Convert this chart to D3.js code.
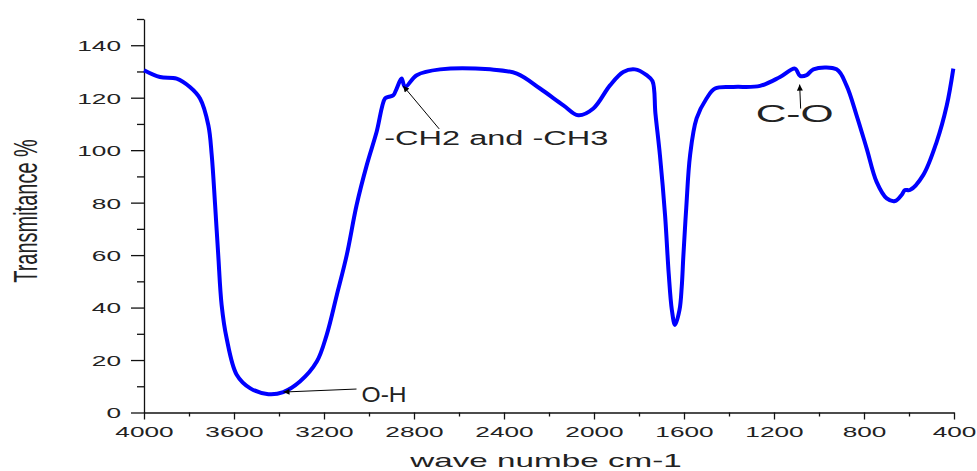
<!DOCTYPE html>
<html>
<head>
<meta charset="utf-8">
<script src="https://cdn.jsdelivr.net/npm/d3@7"></script>
<style>
  html, body { margin: 0; padding: 0; background: #fff; }
  svg { display: block; font-family: "Liberation Sans", Arial, sans-serif; }
</style>
</head>
<body>
<main></main>
<script>
// spectrum (wavenumber cm-1, transmittance %)
let waveNumbers = [4000, 3929, 3855, 3796, 3751, 3714, 3699, 3684, 3670, 3655, 3633, 3588, 3529, 3447, 3381,
    3307, 3232, 3188, 3143, 3099, 3055, 3010, 2966, 2929, 2914, 2892, 2877, 2855, 2840, 2788, 2684, 2462,
    2343, 2240, 2136, 2070, 2003, 1929, 1870, 1818, 1766, 1740, 1727, 1707, 1684, 1668, 1654,
    1640, 1620, 1610, 1603, 1590, 1573, 1544, 1500, 1462, 1381, 1262, 1173, 1107, 1084, 1055, 1025,
    922, 878, 833, 788, 744, 699, 662, 633, 618, 596, 537, 477, 432, 403]
let transmittance = [130.5, 127.9, 127.3, 124.1, 119.7, 109.5, 98.1, 79.1, 60, 41, 28.4, 14.4, 9.3, 7.0, 7.8,
    11.8, 19.4, 29.6, 44.8, 60, 79.1, 94.3, 107, 119.7, 120.3, 120.9, 123.5, 127.3, 124.1, 128.6, 130.8, 130.8,
    129.2, 123.5, 117.1, 113.3, 115.9, 124.7, 129.8, 130.8, 128.6, 126.3, 114, 98.1, 75, 53, 39.1,
    33.4, 39.1, 48, 59.4, 78, 98.1, 112.1, 119.7, 123.5, 124.1, 124.5, 127.9, 131.1, 128.3, 128.6, 130.8,
    130.8, 124.7, 113.3, 100.6, 87.9, 81.6, 80.6, 82.9, 84.8, 84.8, 90.5, 103.2, 117.1, 131.1]

let xTicks = [4000, 3600, 3200, 2800, 2400, 2000, 1600, 1200, 800, 400]
let xMinorTicks = [3800, 3400, 3000, 2600, 2200, 1800, 1400, 1000, 600]
let yTicks = [0, 20, 40, 60, 80, 100, 120, 140]
let yMinorTicks = [10, 30, 50, 70, 90, 110, 130, 150]

// annotations: label and arrow tip (data)
let annLabels = ['O-H', '-CH2 and -CH3', 'C-O']
let annTips = [[3380, 7.8], [2848, 124.5], [1086, 125]]

let width = 977
let height = 471

let svg = d3.select('main')
    .append('svg')
    .attr('width', width)
    .attr('height', height)

let x = d3.scaleLinear()
    .domain([4000, 400])
    .range([144, 954])

let y = d3.scaleLinear()
    .domain([0, 150])
    .range([412.5, 19])

// y axis
let yAxis = svg.append('g')
    .attr('transform', `translate(${x(4000)},0)`)
    .call(d3.axisLeft(y).tickValues(yTicks).tickSize(13).tickSizeOuter(0))

yAxis.select('.domain').attr('stroke', '#111').attr('stroke-width', 1.3)
yAxis.selectAll('line').attr('stroke', '#111').attr('stroke-width', 1.3)
yAxis.selectAll('text')
    .attr('x', 0)
    .attr('dy', '0.36em')
    .attr('transform', 'translate(-23,0) scale(1.75,1)')
    .style('font-size', '15px')
    .style('fill', '#222')

svg.append('g')
    .attr('transform', `translate(${x(4000)},0)`)
    .call(d3.axisLeft(y).tickValues(yMinorTicks).tickSize(7).tickFormat(''))
    .call(g => g.select('.domain').remove())
    .selectAll('line').attr('stroke', '#111').attr('stroke-width', 1.3)

// x axis
let xAxis = svg.append('g')
    .attr('transform', `translate(0,${y(0)})`)
    .call(d3.axisBottom(x).tickValues(xTicks).tickFormat(d3.format('d')).tickSize(7).tickSizeOuter(0))

xAxis.select('.domain').attr('stroke', '#111').attr('stroke-width', 1.3)
xAxis.selectAll('line').attr('stroke', '#111').attr('stroke-width', 1.3)
xAxis.selectAll('text')
    .attr('y', 14)
    .attr('transform', 'scale(1.75,1)')
    .style('font-size', '15px')
    .style('fill', '#222')

svg.append('g')
    .attr('transform', `translate(0,${y(0)})`)
    .call(d3.axisBottom(x).tickValues(xMinorTicks).tickSize(4).tickFormat(''))
    .call(g => g.select('.domain').remove())
    .selectAll('line').attr('stroke', '#111').attr('stroke-width', 1.3)

// axis titles
svg.append('text')
    .attr('transform', 'translate(37,211) scale(1.7,1) rotate(-90)')
    .attr('text-anchor', 'middle')
    .style('font-size', '20px')
    .style('fill', '#222')
    .text('Transmitance %')

svg.append('text')
    .attr('transform', 'translate(546,467) scale(1.75,1)')
    .attr('text-anchor', 'middle')
    .style('font-size', '19px')
    .style('fill', '#222')
    .text('wave numbe cm-1')

// spectrum line
let spectrum = waveNumbers.map((w, i) => [w, transmittance[i]])

let line = d3.line()
    .x(d => x(d[0]))
    .y(d => y(d[1]))
    .curve(d3.curveCatmullRom.alpha(0.5))

svg.append('path')
    .datum(spectrum)
    .attr('d', line)
    .style('fill', 'none')
    .style('stroke', '#0000ff')
    .style('stroke-width', 4)
    .style('stroke-linejoin', 'round')

// arrow marker
svg.append('defs')
    .append('marker')
    .attr('id', 'arrow')
    .attr('viewBox', '0 0 10 10')
    .attr('refX', 10)
    .attr('refY', 5)
    .attr('markerUnits', 'userSpaceOnUse')
    .attr('markerWidth', 11)
    .attr('markerHeight', 6)
    .attr('orient', 'auto')
    .append('path')
    .attr('d', 'M0,0 L10,5 L0,10 z')
    .style('fill', '#000')

// O-H
let t0 = annTips[0]
svg.append('line')
    .attr('x1', x(t0[0]) + 73)
    .attr('y1', y(t0[1]) - 3)
    .attr('x2', x(t0[0]))
    .attr('y2', y(t0[1]))
    .attr('marker-end', 'url(#arrow)')
    .style('stroke', '#000')
    .style('stroke-width', 1)
svg.append('text')
    .attr('transform', `translate(${x(t0[0]) + 78},${y(t0[1]) + 10}) scale(1.12,1)`)
    .style('font-size', '22px')
    .style('fill', '#222')
    .text(annLabels[0])

// -CH2 and -CH3
let t1 = annTips[1]
svg.append('line')
    .attr('x1', x(t1[0]) + 36)
    .attr('y1', y(t1[1]) + 43)
    .attr('x2', x(t1[0]))
    .attr('y2', y(t1[1]))
    .attr('marker-end', 'url(#arrow)')
    .style('stroke', '#000')
    .style('stroke-width', 1)
svg.append('text')
    .attr('transform', `translate(${x(t1[0]) - 19},${y(t1[1]) + 59}) scale(1.55,1)`)
    .style('font-size', '21px')
    .style('fill', '#222')
    .text(annLabels[1])

// C-O
let t2 = annTips[2]
svg.append('line')
    .attr('x1', x(t2[0]) + 1)
    .attr('y1', y(t2[1]) + 24)
    .attr('x2', x(t2[0]))
    .attr('y2', y(t2[1]))
    .attr('marker-end', 'url(#arrow)')
    .style('stroke', '#000')
    .style('stroke-width', 1)
svg.append('text')
    .attr('transform', `translate(${x(t2[0]) - 44},${y(t2[1]) + 37}) scale(1.85,1)`)
    .style('font-size', '23px')
    .style('fill', '#222')
    .text(annLabels[2])
</script>
</body>
</html>
